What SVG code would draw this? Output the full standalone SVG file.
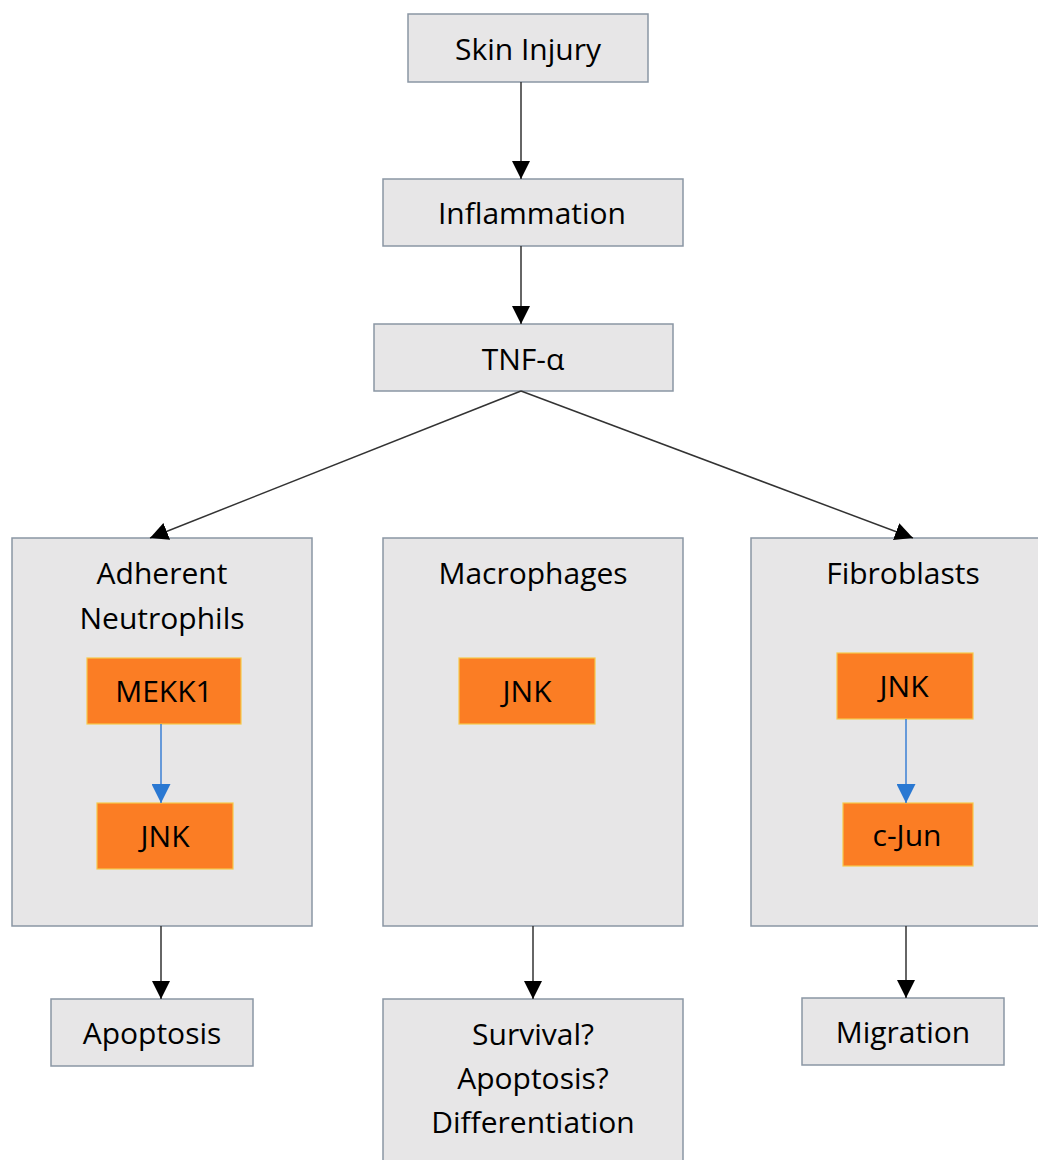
<svg xmlns="http://www.w3.org/2000/svg" width="1038" height="1160" viewBox="0 0 1038 1160">
<style>
.box{fill:#e7e6e7;stroke:#8a96a4;stroke-width:1.5}
.ora{fill:#fb7d24;stroke:#f7c84a;stroke-width:1.2}
.t{font-family:"Open Sans","Liberation Sans",sans-serif;font-size:30px;fill:#000;text-anchor:middle}
.c{stroke:#333;stroke-width:1.5;fill:none}
.cb{stroke:#3b7fd4;stroke-width:1.5;fill:none}
</style>
<defs>
<marker id="ak" markerWidth="18" markerHeight="18" viewBox="0 0 18 18" refX="18" refY="9" markerUnits="userSpaceOnUse" orient="auto"><path d="M0,0 L18,9 L0,18 z" fill="#000"/></marker>
<marker id="ab" markerWidth="19" markerHeight="19" viewBox="0 0 18 18" refX="18" refY="9" markerUnits="userSpaceOnUse" orient="auto"><path d="M0,0 L18,9 L0,18 z" fill="#2a78d2"/></marker>
</defs>
<g id="skin"><rect class="box" x="408" y="14" width="240" height="68"/><text class="t" x="528" y="60">Skin Injury</text></g>
<g id="inflammation"><rect class="box" x="383" y="179" width="300" height="67"/><text class="t" x="532" y="224">Inflammation</text></g>
<g id="tnf"><rect class="box" x="374" y="324" width="299" height="67"/><text class="t" x="523" y="370">TNF-α</text></g>
<g id="neutrophils"><rect class="box" x="12" y="538" width="300" height="388"/><text class="t" x="162" y="584">Adherent</text><text class="t" x="162" y="629">Neutrophils</text></g>
<g id="macrophages"><rect class="box" x="383" y="538" width="300" height="388"/><text class="t" x="533" y="584">Macrophages</text></g>
<g id="fibroblasts"><rect class="box" x="751" y="538" width="300" height="388"/><text class="t" x="903" y="584">Fibroblasts</text></g>
<g id="mekk1"><rect class="ora" x="87" y="658" width="154" height="66"/><text class="t" x="164" y="702">MEKK1</text></g>
<g id="jnk-n"><rect class="ora" x="97" y="803" width="136" height="66"/><text class="t" x="165" y="847">JNK</text></g>
<g id="jnk-m"><rect class="ora" x="459" y="658" width="136" height="66"/><text class="t" x="527" y="702">JNK</text></g>
<g id="jnk-f"><rect class="ora" x="837" y="653" width="136" height="66"/><text class="t" x="904" y="697">JNK</text></g>
<g id="cjun"><rect class="ora" x="843" y="803" width="130" height="63"/><text class="t" x="907" y="846">c-Jun</text></g>
<g id="apoptosis"><rect class="box" x="51" y="999" width="202" height="67"/><text class="t" x="152" y="1044">Apoptosis</text></g>
<g id="survival"><rect class="box" x="383" y="999" width="300" height="175"/><text class="t" x="533" y="1045">Survival?</text><text class="t" x="533" y="1089">Apoptosis?</text><text class="t" x="533" y="1133">Differentiation</text></g>
<g id="migration"><rect class="box" x="802" y="998" width="202" height="67"/><text class="t" x="903" y="1043">Migration</text></g>
<g id="connectors">
<line class="c" x1="521" y1="82" x2="521" y2="179" marker-end="url(#ak)"/>
<line class="c" x1="521" y1="246" x2="521" y2="324" marker-end="url(#ak)"/>
<line class="c" x1="521" y1="391" x2="150" y2="538" marker-end="url(#ak)"/>
<line class="c" x1="521" y1="391" x2="913" y2="538" marker-end="url(#ak)"/>
<line class="cb" x1="161" y1="724" x2="161" y2="803" marker-end="url(#ab)"/>
<line class="cb" x1="906" y1="719" x2="906" y2="803" marker-end="url(#ab)"/>
<line class="c" x1="161" y1="926" x2="161" y2="999" marker-end="url(#ak)"/>
<line class="c" x1="533" y1="926" x2="533" y2="999" marker-end="url(#ak)"/>
<line class="c" x1="906" y1="926" x2="906" y2="998" marker-end="url(#ak)"/>
</g>
</svg>
